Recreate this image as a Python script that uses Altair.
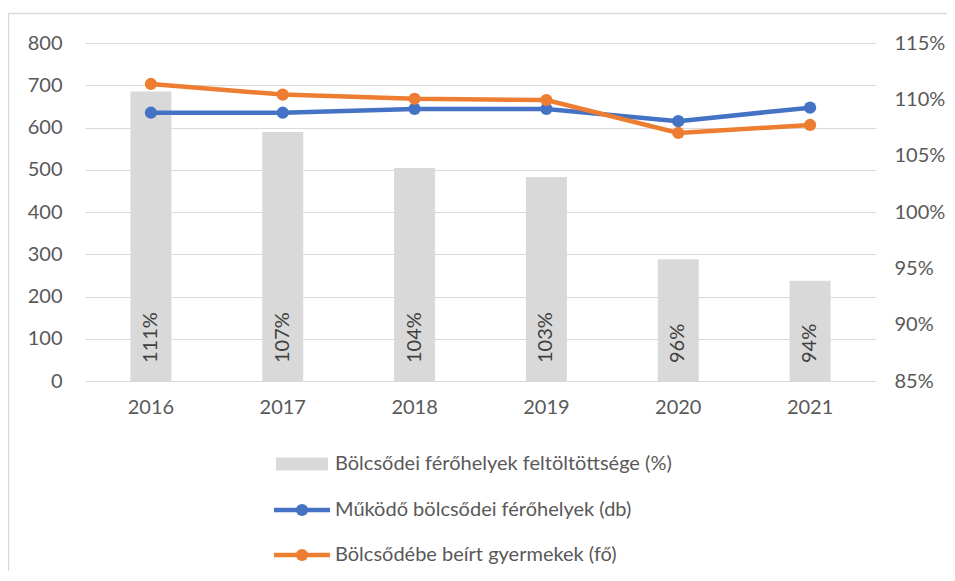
import altair as alt
import pandas as pd

years = ["2016", "2017", "2018", "2019", "2020", "2021"]
fill_pct = [110.7, 107.1, 103.9, 103.1, 95.8, 93.9]
fill_labels = ["111%", "107%", "104%", "103%", "96%", "94%"]
places = [635, 635, 644, 644, 615, 647]
children = [703, 678, 668, 665, 587, 606]
legend_labels = [
    "Bölcsődei férőhelyek feltöltöttsége (%)",
    "Működő bölcsődei férőhelyek (db)",
    "Bölcsődébe beírt gyermekek (fő)",
]

GREY = "#d9d9d9"
BLUE = "#4472c4"
ORANGE = "#ed7d31"
TXT = "#595959"
FONT = "Lato"
FS = 20

W, H = 791, 338

df = pd.DataFrame({
    "year": years,
    "fill": fill_pct,
    "label": fill_labels,
    "places": places,
    "children": children,
    "base": [85] * len(years),
})

AX = dict(labelFont=FONT, labelFontSize=FS, labelColor=TXT, domain=False, ticks=False)

xenc = alt.X("year:N", title=None, sort=years,
             scale=alt.Scale(paddingInner=0, paddingOuter=0),
             axis=alt.Axis(labelAngle=0, labelPadding=16, **AX))

base = alt.Chart(df)

bars = base.mark_bar(color=GREY, size=41).encode(
    x=xenc,
    y=alt.Y("fill:Q", title=None,
            scale=alt.Scale(domain=[85, 115], zero=False, nice=False),
            axis=alt.Axis(orient="right", values=[85, 90, 95, 100, 105, 110, 115],
                          labelExpr="datum.value + '%'", grid=False,
                          labelPadding=18, **AX)),
    y2="base:Q",
)

bar_text = base.mark_text(angle=270, align="left", baseline="middle",
                          font=FONT, fontSize=FS, color="#404040").encode(
    x=alt.X("year:N", sort=years),
    y=alt.value(H - 18),
    text="label:N",
)

yl_scale = alt.Scale(domain=[0, 800], nice=False)

blue_line = base.mark_line(color=BLUE, strokeWidth=4.5).encode(
    x=alt.X("year:N", sort=years),
    y=alt.Y("places:Q", title=None, scale=yl_scale,
            axis=alt.Axis(orient="left", values=list(range(0, 801, 100)), grid=True,
                          gridColor=GREY, gridWidth=1, labelPadding=23, **AX)),
)
blue_pts = base.mark_circle(color=BLUE, size=150, opacity=1).encode(
    x=alt.X("year:N", sort=years),
    y=alt.Y("places:Q", scale=yl_scale, axis=None),
)
orange_line = base.mark_line(color=ORANGE, strokeWidth=4.5).encode(
    x=alt.X("year:N", sort=years),
    y=alt.Y("children:Q", scale=yl_scale, axis=None),
)
orange_pts = base.mark_circle(color=ORANGE, size=150, opacity=1).encode(
    x=alt.X("year:N", sort=years),
    y=alt.Y("children:Q", scale=yl_scale, axis=None),
)

# custom legend
leg_rows = [421, 467, 512]
leg_df = pd.DataFrame({"label": legend_labels})
one = lambda i: alt.Chart(leg_df.iloc[[i]])

leg_rect = one(0).mark_rect(color=GREY).encode(
    x=alt.value(191), x2=alt.value(243),
    y=alt.value(leg_rows[0] - 6.5), y2=alt.value(leg_rows[0] + 6.5))
leg_items = [leg_rect]
for i, col in [(1, BLUE), (2, ORANGE)]:
    leg_items.append(one(i).mark_rule(color=col, strokeWidth=4.5).encode(
        x=alt.value(189), x2=alt.value(245), y=alt.value(leg_rows[i])))
    leg_items.append(one(i).mark_circle(color=col, size=150, opacity=1).encode(
        x=alt.value(217), y=alt.value(leg_rows[i])))
for i in range(3):
    leg_items.append(one(i).mark_text(align="left", baseline="middle", font=FONT,
                                      fontSize=FS, color=TXT).encode(
        x=alt.value(250), y=alt.value(leg_rows[i]), text="label:N"))

# outer chart border (Excel style)
border_v = one(0).mark_rule(color=GREY, strokeWidth=1.5).encode(
    x=alt.value(-76.5), y=alt.value(-29.5), y2=alt.value(700))
border_h = one(0).mark_rule(color=GREY, strokeWidth=1.5).encode(
    x=alt.value(-76.5), x2=alt.value(1000), y=alt.value(-29.5))

chart = alt.layer(
    bars, bar_text, blue_line, blue_pts, orange_line, orange_pts,
    *leg_items, border_v, border_h,
).resolve_scale(y="independent").properties(
    width=W, height=H,
    background="white",
    autosize=alt.AutoSizeParams(type="none"),
    padding={"left": 77, "top": 35, "right": 71, "bottom": 190},
).configure_view(stroke=None)

chart.save("out.html", embed_options={"renderer": "svg", "actions": False})
